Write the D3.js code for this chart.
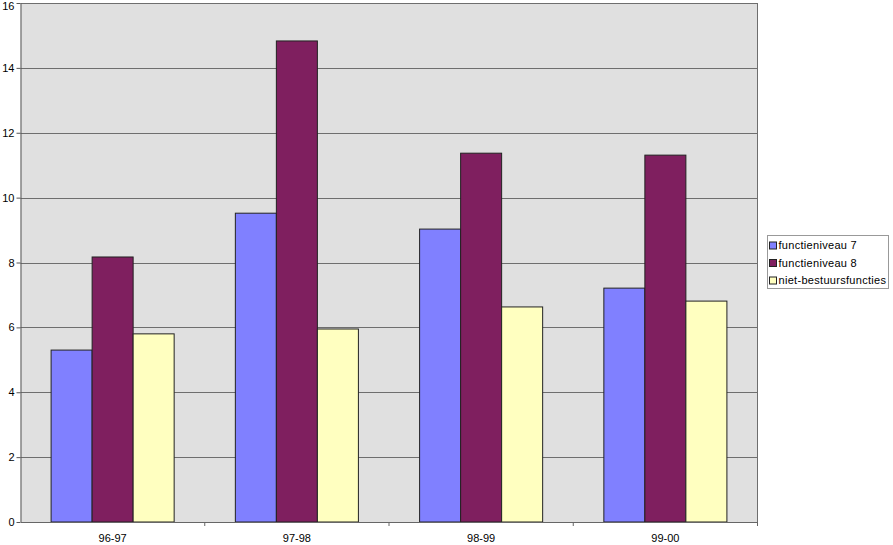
<!DOCTYPE html>
<html>
<head>
<meta charset="utf-8">
<script src="https://cdn.jsdelivr.net/npm/d3@7"></script>
<style>
  body { margin: 0; background: #fff; }
  svg { display: block; font-family: "Liberation Sans", Arial, sans-serif; }
  .tick text { font-size: 11px; fill: #000; }
</style>
</head>
<body>
<svg width="893" height="545"></svg>
<script>
const categories = ["96-97", "97-98", "98-99", "99-00"];
const seriesNames = ["functieniveau 7", "functieniveau 8", "niet-bestuursfuncties"];
const niveau7 = [5.30, 9.52, 9.03, 7.21];
const niveau8 = [8.17, 14.83, 11.37, 11.31];
const nietBestuur = [5.80, 5.95, 6.63, 6.81];
const yTicks = [0, 2, 4, 6, 8, 10, 12, 14, 16];
const colors = ["#8080ff", "#7f1f5f", "#ffffc0"];

const series = [niveau7, niveau8, nietBestuur];
const data = categories.map((c, i) => ({
  cat: c,
  values: series.map((s, j) => ({ name: seriesNames[j], value: s[i], idx: j }))
}));

const svg = d3.select("svg");
const plotLeft = 20.5, plotRight = 757.5, plotTop = 3, plotBottom = 522;

const scaleX = d3.scaleBand().domain(categories).range([plotLeft, plotRight]);
const scaleY = d3.scaleLinear().domain([0, 16]).range([plotBottom, plotTop]);
const groupPad = 30.6;
const scaleInner = d3.scaleBand()
  .domain(d3.range(series.length))
  .range([groupPad, scaleX.bandwidth() - groupPad]);

// plot background
svg.append("rect")
  .attr("x", plotLeft).attr("y", plotTop)
  .attr("width", plotRight - plotLeft).attr("height", plotBottom - plotTop)
  .attr("fill", "#e0e0e0");

// grid lines
svg.append("g")
  .selectAll("line")
  .data(yTicks.slice(1))
  .join("line")
  .attr("x1", plotLeft).attr("x2", plotRight)
  .attr("y1", d => Math.round(scaleY(d)) + 0.5)
  .attr("y2", d => Math.round(scaleY(d)) + 0.5)
  .attr("stroke", "#6e6e6e")
  .attr("stroke-width", 1);

// right border
svg.append("line")
  .attr("x1", plotRight).attr("x2", plotRight)
  .attr("y1", plotTop).attr("y2", plotBottom + 4)
  .attr("stroke", "#6e6e6e");

// bars
const groups = svg.selectAll("g.cat")
  .data(data)
  .join("g")
  .attr("class", "cat")
  .attr("transform", d => `translate(${scaleX(d.cat)},0)`);

groups.selectAll("rect")
  .data(d => d.values)
  .join("rect")
  .attr("x", d => scaleInner(d.idx))
  .attr("y", d => scaleY(d.value))
  .attr("width", scaleInner.bandwidth())
  .attr("height", d => plotBottom - scaleY(d.value))
  .attr("fill", d => colors[d.idx])
  .attr("stroke", "#222")
  .attr("stroke-width", 1);

// axes
const axisY = d3.axisLeft(scaleY)
  .tickValues(yTicks)
  .tickSizeInner(4)
  .tickSizeOuter(0)
  .tickPadding(2)
  .tickFormat(d3.format("d"));
svg.append("g")
  .attr("transform", `translate(${plotLeft},0)`)
  .call(axisY)
  .call(g => g.select(".domain").attr("stroke", "#555"))
  .call(g => g.selectAll(".tick line").attr("stroke", "#555"))
  // keep the top label inside the page
  .call(g => g.selectAll(".tick text").filter(d => d === 16).attr("y", -2).attr("dy", "0.75em"));

const axisX = d3.axisBottom(scaleX)
  .tickSize(0)
  .tickPadding(12);
const gx = svg.append("g")
  .attr("transform", `translate(0,${plotBottom})`)
  .call(axisX)
  .call(g => g.select(".domain").attr("stroke", "#666"));

// category separator ticks
gx.selectAll("line.sep")
  .data(categories)
  .join("line")
  .attr("class", "sep")
  .attr("x1", d => scaleX(d) + scaleX.bandwidth())
  .attr("x2", d => scaleX(d) + scaleX.bandwidth())
  .attr("y1", 0).attr("y2", 4)
  .attr("stroke", "#666");

// legend
const legend = svg.append("g").attr("transform", "translate(767.5,235.5)");
legend.append("rect")
  .attr("width", 121).attr("height", 53)
  .attr("fill", "#fff")
  .attr("stroke", "#999");

const items = legend.selectAll("g.item")
  .data(seriesNames)
  .join("g")
  .attr("class", "item")
  .attr("transform", (d, i) => `translate(2,${10 + i * 17.5})`);

items.append("rect")
  .attr("x", 0).attr("y", -3.5)
  .attr("width", 7).attr("height", 7)
  .attr("fill", (d, i) => colors[i])
  .attr("stroke", "#222");

items.append("text")
  .attr("x", 9)
  .attr("dy", "0.35em")
  .style("font-size", "11px")
  .style("letter-spacing", "0.3px")
  .text(d => d);
</script>
</body>
</html>
